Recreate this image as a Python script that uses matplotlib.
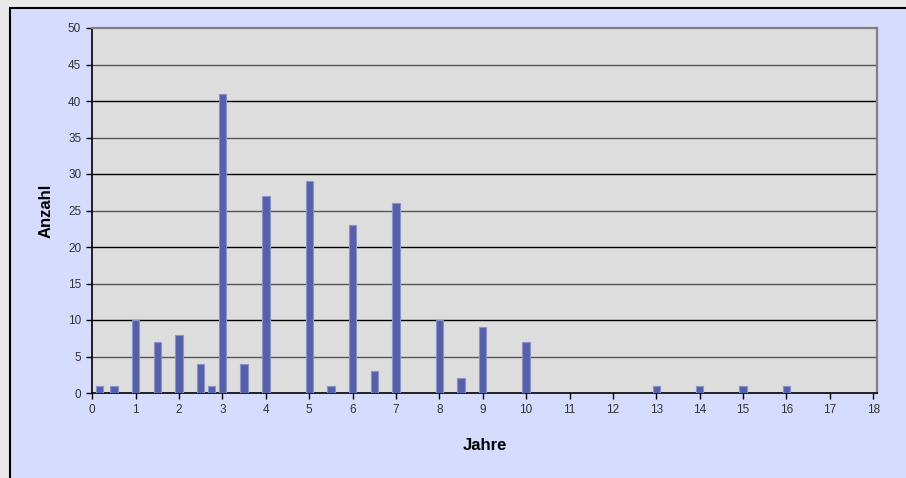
import matplotlib.pyplot as plt
from matplotlib.patches import Rectangle

plt.rcParams['font.family'] = ['Liberation Sans', 'DejaVu Sans']

# Jahre / Anzahl
jahre = [0.17, 0.5, 1, 1.5, 2, 2.5, 2.75, 3, 3.5, 4, 5, 5.5, 6, 6.5, 7,
         8, 8.5, 9, 10, 13, 14, 15, 16]
anzahl = [1, 1, 10, 7, 8, 4, 1, 41, 4, 27, 29, 1, 23, 3, 26,
          10, 2, 9, 7, 1, 1, 1, 1]
x_ticks = list(range(0, 19))
y_ticks = list(range(0, 51, 5))

fig = plt.figure(figsize=(9.06, 4.78), dpi=100)
fig.patch.set_facecolor('#e9e9e9')

# lavender chart panel with black frame
W, H = 906, 478
fig.patches.append(Rectangle((10 / W, -0.05), 1.0, (478 - 8) / H + 0.05,
                             transform=fig.transFigure, facecolor='#d6dcfe',
                             edgecolor='black', linewidth=1.5, zorder=0))

ax = fig.add_axes([92.3 / W, 85 / H, (876.7 - 92.3) / W, (393 - 28) / H])
ax.set_facecolor('#dddddd')
ax.set_zorder(1)

for v in y_ticks[1:-1]:
    ax.axhline(v, color='black' if v % 10 == 0 else '#555555', linewidth=1, zorder=1)

ax.bar(jahre, anzahl, width=0.17, color='#5560a8', edgecolor='#8a92cc',
       linewidth=0.8, zorder=3)

ax.set_xlim(0, 18.08)
ax.set_ylim(0, 50)
ax.set_xticks(x_ticks)
ax.set_yticks(y_ticks)
ax.tick_params(axis='both', direction='out', length=4, width=1, color='black',
               labelsize=8.5, labelcolor='#333333', pad=4)

for side in ('top', 'right'):
    ax.spines[side].set_color('#808080')
    ax.spines[side].set_linewidth(1.6)
for side in ('left', 'bottom'):
    ax.spines[side].set_color('black')
    ax.spines[side].set_linewidth(1.2)

ax.set_xlabel('Jahre', fontsize=12, fontweight='bold', labelpad=16)
ax.set_ylabel('Anzahl', fontsize=12, fontweight='bold', labelpad=10)

fig.savefig('out.png', dpi=100, facecolor=fig.get_facecolor())
